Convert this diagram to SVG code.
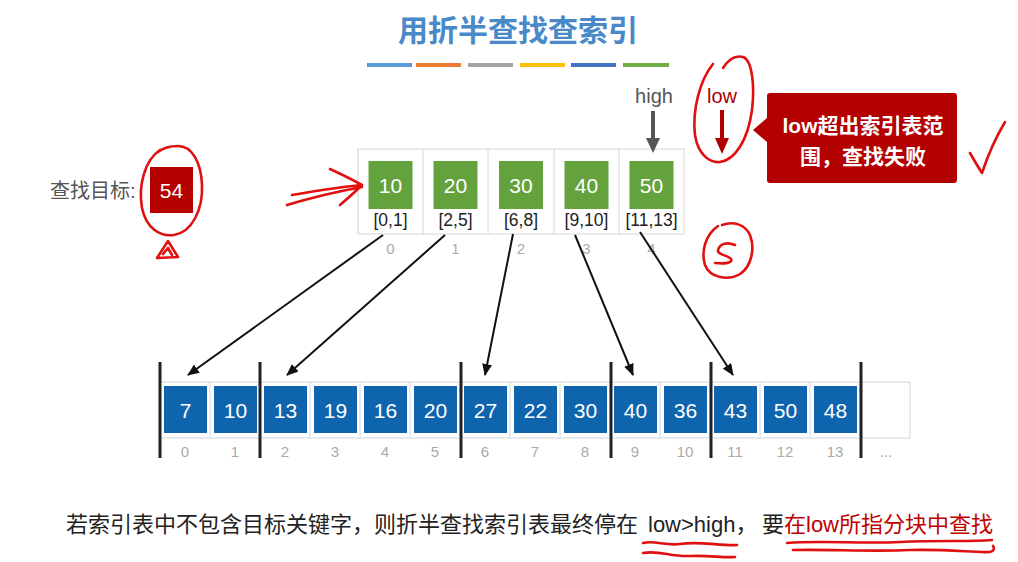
<svg xmlns="http://www.w3.org/2000/svg" width="1018" height="562" viewBox="0 0 1018 562">
<style>
.cjk{font-family:"Liberation Sans","Noto Sans CJK SC",sans-serif}
.num{font-family:"Liberation Sans",Arial,sans-serif;font-size:21px;fill:#fff;text-anchor:middle}
.rng{font-family:"Liberation Sans",Arial,sans-serif;font-size:17.5px;fill:#222;text-anchor:middle}
.idx{font-family:"Liberation Sans",Arial,sans-serif;font-size:15px;fill:#aaa;text-anchor:middle}
.g{fill:#63a23c}
.b{fill:#0f64ae}
.cell{fill:none;stroke:#d6d6d6;stroke-width:1}
.sep{stroke:#222;stroke-width:3}
.conn{stroke:#111;stroke-width:2;fill:none;marker-end:url(#ah)}
.ink{fill:none;stroke:#e01010;stroke-width:2.6;stroke-linecap:round;stroke-linejoin:round}
</style>
<defs>
<marker id="ah" viewBox="0 0 12 10" refX="11" refY="5" markerWidth="6" markerHeight="5" orient="auto" markerUnits="strokeWidth">
<path d="M0,0 L12,5 L0,10 z" fill="#111"/>
</marker>
</defs>
<rect width="1018" height="562" fill="#fff"/>

<g id="title">
<text x="518" y="41" class="cjk" font-size="30" font-weight="bold" fill="#4a89c8" text-anchor="middle">用折半查找查索引</text>
<rect x="367" y="63" width="45" height="4" fill="#5b9bd5"/>
<rect x="416" y="63" width="45" height="4" fill="#ed7d31"/>
<rect x="468" y="63" width="45" height="4" fill="#a5a5a5"/>
<rect x="520" y="63" width="45" height="4" fill="#ffc000"/>
<rect x="571" y="63" width="45" height="4" fill="#4472c4"/>
<rect x="623" y="63" width="46" height="4" fill="#70ad47"/>
</g>

<g id="target">
<text x="50" y="198" class="cjk" font-size="20" fill="#555">查找目标:</text>
<rect x="150" y="167" width="43" height="46" fill="#b50000"/>
<text x="171.5" y="198" class="num">54</text>
</g>

<g id="index-table">
<rect x="358" y="149" width="326" height="85" class="cell"/>
<line x1="423" y1="149" x2="423" y2="234" class="cell"/>
<line x1="488" y1="149" x2="488" y2="234" class="cell"/>
<line x1="554" y1="149" x2="554" y2="234" class="cell"/>
<line x1="619" y1="149" x2="619" y2="234" class="cell"/>
<g id="idx0"><rect x="368.5" y="161" width="44" height="48" class="g"/><text x="390.5" y="193" class="num">10</text><text x="390.5" y="226" class="rng">[0,1]</text><text x="390.5" y="254" class="idx">0</text></g>
<g id="idx1"><rect x="433.5" y="161" width="44" height="48" class="g"/><text x="455.5" y="193" class="num">20</text><text x="455.5" y="226" class="rng">[2,5]</text><text x="455.5" y="254" class="idx">1</text></g>
<g id="idx2"><rect x="499" y="161" width="44" height="48" class="g"/><text x="521" y="193" class="num">30</text><text x="521" y="226" class="rng">[6,8]</text><text x="521" y="254" class="idx">2</text></g>
<g id="idx3"><rect x="564.5" y="161" width="44" height="48" class="g"/><text x="586.5" y="193" class="num">40</text><text x="586.5" y="226" class="rng">[9,10]</text><text x="586.5" y="254" class="idx">3</text></g>
<g id="idx4"><rect x="629.5" y="161" width="44" height="48" class="g"/><text x="651.5" y="193" class="num">50</text><text x="651.5" y="226" class="rng">[11,13]</text><text x="651.5" y="254" class="idx">4</text></g>
</g>

<g id="high-pointer">
<text x="654" y="103" font-family="Liberation Sans,Arial,sans-serif" font-size="20" fill="#555" text-anchor="middle">high</text>
<line x1="653" y1="111" x2="653" y2="140" stroke="#555" stroke-width="4"/>
<polygon points="646,138 660,138 653,153" fill="#555"/>
</g>

<g id="low-pointer">
<text x="722" y="103" font-family="Liberation Sans,Arial,sans-serif" font-size="20" fill="#a80000" text-anchor="middle">low</text>
<line x1="722" y1="110" x2="722" y2="140" stroke="#b00000" stroke-width="4"/>
<polygon points="715,138 729,138 722,154" fill="#b00000"/>
</g>

<g id="callout">
<path d="M770,93 H954 Q957,93 957,96 V180 Q957,183 954,183 H770 Q767,183 767,180 V142 L753,130 L767,118 V96 Q767,93 770,93 Z" fill="#b30000"/>
<text x="863" y="133" class="cjk" font-size="21" font-weight="bold" fill="#fff" text-anchor="middle">low超出索引表范</text>
<text x="863" y="164" class="cjk" font-size="21" font-weight="bold" fill="#fff" text-anchor="middle">围，查找失败</text>
</g>

<g id="blocks">
<rect x="160" y="382" width="750" height="56" class="cell"/>
<path d="M210,382V438M260,382V438M310,382V438M360,382V438M410,382V438M460,382V438M510,382V438M560,382V438M610,382V438M660,382V438M710,382V438M760,382V438M810,382V438M860,382V438" class="cell"/>
<g id="e0"><rect x="164" y="386" width="43" height="47" class="b"/><text x="185.5" y="418" class="num">7</text><text x="185" y="457" class="idx">0</text></g>
<g id="e1"><rect x="214" y="386" width="43" height="47" class="b"/><text x="235.5" y="418" class="num">10</text><text x="235" y="457" class="idx">1</text></g>
<g id="e2"><rect x="264" y="386" width="43" height="47" class="b"/><text x="285.5" y="418" class="num">13</text><text x="285" y="457" class="idx">2</text></g>
<g id="e3"><rect x="314" y="386" width="43" height="47" class="b"/><text x="335.5" y="418" class="num">19</text><text x="335" y="457" class="idx">3</text></g>
<g id="e4"><rect x="364" y="386" width="43" height="47" class="b"/><text x="385.5" y="418" class="num">16</text><text x="385" y="457" class="idx">4</text></g>
<g id="e5"><rect x="414" y="386" width="43" height="47" class="b"/><text x="435.5" y="418" class="num">20</text><text x="435" y="457" class="idx">5</text></g>
<g id="e6"><rect x="464" y="386" width="43" height="47" class="b"/><text x="485.5" y="418" class="num">27</text><text x="485" y="457" class="idx">6</text></g>
<g id="e7"><rect x="514" y="386" width="43" height="47" class="b"/><text x="535.5" y="418" class="num">22</text><text x="535" y="457" class="idx">7</text></g>
<g id="e8"><rect x="564" y="386" width="43" height="47" class="b"/><text x="585.5" y="418" class="num">30</text><text x="585" y="457" class="idx">8</text></g>
<g id="e9"><rect x="614" y="386" width="43" height="47" class="b"/><text x="635.5" y="418" class="num">40</text><text x="635" y="457" class="idx">9</text></g>
<g id="e10"><rect x="664" y="386" width="43" height="47" class="b"/><text x="685.5" y="418" class="num">36</text><text x="685" y="457" class="idx">10</text></g>
<g id="e11"><rect x="714" y="386" width="43" height="47" class="b"/><text x="735.5" y="418" class="num">43</text><text x="735" y="457" class="idx">11</text></g>
<g id="e12"><rect x="764" y="386" width="43" height="47" class="b"/><text x="785.5" y="418" class="num">50</text><text x="785" y="457" class="idx">12</text></g>
<g id="e13"><rect x="814" y="386" width="43" height="47" class="b"/><text x="835.5" y="418" class="num">48</text><text x="835" y="457" class="idx">13</text></g>
<text x="886" y="457" class="idx">...</text>
<path d="M160,362V458M260,362V458M461,362V458M611,362V458M711,362V458M861,362V458" class="sep"/>
</g>

<g id="connectors">
<line x1="383" y1="235" x2="188" y2="375" class="conn"/>
<line x1="445" y1="235" x2="287" y2="375" class="conn"/>
<line x1="513" y1="234" x2="485" y2="375" class="conn"/>
<line x1="575" y1="235" x2="633" y2="375" class="conn"/>
<line x1="640" y1="232" x2="733" y2="375" class="conn"/>
</g>

<g id="footer">
<text y="532" class="cjk" font-size="22" fill="#222"><tspan x="66">若索引表中不包含目标关键字，则折半查找索引表最终停在</tspan><tspan x="648">low&gt;high，</tspan><tspan x="762">要</tspan><tspan x="784" fill="#c00000">在low所指分块中查找</tspan></text>
</g>

<g id="annotations">
<path d="M160,150 C145,160 138,185 142,208 C146,228 160,237 174,235 C192,232 203,210 202,185 C201,162 192,146 178,146 C170,146 163,148 158,152" class="ink"/>
<path d="M157,258 L168,241 L178,257 Z M163,254 L168,248 L172,255" class="ink"/>
<path d="M287,205 C310,198 335,192 362,187 M292,195 C315,191 340,187 362,185 M330,169 C343,175 353,180 362,185 C355,192 347,199 340,205" class="ink"/>
<path d="M713,64 C700,80 692,110 695,135 C698,155 710,163 720,162 C735,160 748,140 752,110 C755,85 752,60 743,57 C735,55 728,60 723,68" class="ink"/>
<path d="M970,153 C974,160 978,167 982,173 C988,155 996,137 1005,122" class="ink"/>
<path d="M718,226 C705,235 701,252 705,265 C710,278 728,281 740,274 C752,266 755,248 750,235 C745,224 733,221 722,225 M735,245 C728,242 720,243 718,250 C717,255 728,255 731,259 C733,263 725,264 715,263" class="ink"/>
<path d="M643,543 C655,540 665,546 680,544 C700,541 720,546 737,545 M643,553 C660,550 670,557 690,556 C710,555 722,558 735,557" class="ink"/>
<path d="M787,543 C820,540 860,544 900,542 C940,540 970,542 992,540 M793,550 C830,549 870,552 910,550 C950,549 975,553 990,552 C994,551 995,548 993,546" class="ink"/>
</g>
</svg>
